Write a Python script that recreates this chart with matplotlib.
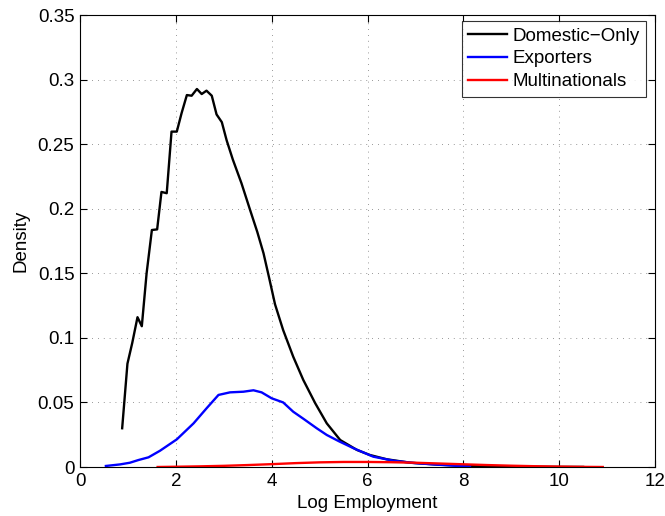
import matplotlib
matplotlib.use("Agg")
import matplotlib.pyplot as plt

plt.rcParams['font.family'] = ['Liberation Sans', 'DejaVu Sans']

dom_x = [0.88, 0.99, 1.09, 1.20, 1.29, 1.39, 1.50, 1.61, 1.70, 1.81, 1.91, 2.02, 2.12, 2.23,
         2.33, 2.44, 2.54, 2.64, 2.75, 2.85, 2.96, 3.06, 3.19, 3.37, 3.55, 3.70, 3.83, 3.95,
         4.07, 4.24, 4.45, 4.66, 4.91, 5.15, 5.43, 5.78, 6.05, 6.40, 6.89, 7.5, 8.0, 8.5, 9.0,
         9.5, 10.0, 10.5]
dom_y = [0.030, 0.080, 0.096, 0.116, 0.109, 0.150, 0.1835, 0.184, 0.213, 0.212, 0.2597, 0.2597,
         0.274, 0.288, 0.2875, 0.2927, 0.2888, 0.2914, 0.2875, 0.273, 0.267, 0.253, 0.238, 0.2197,
         0.199, 0.182, 0.1655, 0.146, 0.126, 0.106, 0.0854, 0.0674, 0.0493, 0.0338, 0.0209, 0.0132,
         0.0093, 0.0060, 0.0033, 0.0018, 0.0010, 0.0006, 0.0003, 0.0002, 0.0001, 0.00005]

exp_x = [0.54, 0.835, 1.04, 1.22, 1.43, 1.67, 2.02, 2.37, 2.64, 2.89, 3.13, 3.41, 3.62, 3.79,
         4.00, 4.24, 4.45, 4.66, 4.94, 5.15, 5.40, 5.71, 6.12, 6.54, 7.00, 7.37, 7.80, 8.14]
exp_y = [0.0008, 0.002, 0.0033, 0.0054, 0.0075, 0.0126, 0.0214, 0.0338, 0.0454, 0.0558, 0.0578,
         0.0583, 0.0594, 0.0578, 0.0532, 0.0500, 0.0428, 0.0374, 0.030, 0.0248, 0.0200, 0.0145,
         0.0080, 0.0049, 0.0030, 0.0020, 0.0010, 0.0003]

mnc_x = [1.62, 2.0, 2.5, 3.0, 3.5, 4.0, 4.5, 5.0, 5.5, 6.0, 6.5, 7.0, 7.5, 8.0, 8.5, 9.0, 9.5,
         10.0, 10.5, 10.91]
mnc_y = [0.0000, 0.0002, 0.0005, 0.0009, 0.0015, 0.0022, 0.0030, 0.0036, 0.0039, 0.0039, 0.0037,
         0.0033, 0.0027, 0.0021, 0.0015, 0.0010, 0.0006, 0.0003, 0.0001, 0.0000]

x_ticks = [0, 2, 4, 6, 8, 10, 12]
y_ticks = [0, 0.05, 0.1, 0.15, 0.2, 0.25, 0.3, 0.35]
y_ticklabels = ['0', '0.05', '0.1', '0.15', '0.2', '0.25', '0.3', '0.35']

FS = 13.5

fig = plt.figure(figsize=(6.65, 5.16), dpi=100)
ax = fig.add_axes([80/665, 49/516, 575/665, 452/516])

ax.plot(dom_x, dom_y, color='black', lw=1.7, label='Domestic\u2212Only')
ax.plot(exp_x, exp_y, color='blue', lw=1.7, label='Exporters')
ax.plot(mnc_x, mnc_y, color='red', lw=1.7, label='Multinationals')

ax.set_xlim(0, 12)
ax.set_ylim(0, 0.35)
ax.set_xticks(x_ticks)
ax.set_xticklabels([str(t) for t in x_ticks])
ax.set_yticks(y_ticks)
ax.set_yticklabels(y_ticklabels)
ax.grid(True, linestyle=(0, (1, 6)), color='#777777', lw=0.6)
ax.tick_params(direction='in', top=True, right=True, labelsize=FS, length=5, pad=4)
for s in ax.spines.values():
    s.set_linewidth(0.8)
ax.set_xlabel('Log Employment', fontsize=FS, labelpad=4)
ax.set_ylabel('Density', fontsize=FS, labelpad=6)

leg = ax.legend(loc='upper right', bbox_to_anchor=(0.9843, 0.9867), borderaxespad=0,
                fontsize=FS, frameon=True, fancybox=False, edgecolor='black',
                handlelength=2.1, labelspacing=0.3, handletextpad=0.25, borderpad=0.35)
leg.get_frame().set_linewidth(0.8)

fig.savefig('out.png', dpi=100)
